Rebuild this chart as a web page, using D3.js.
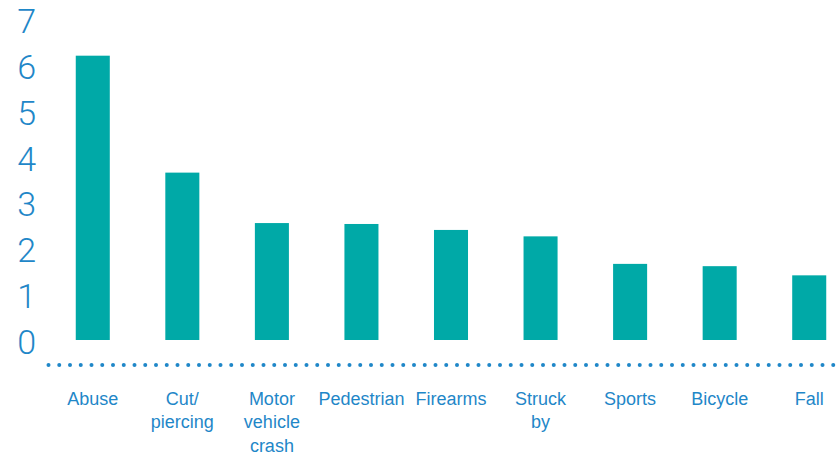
<!DOCTYPE html>
<html lang="en">
<head>
  <meta charset="UTF-8">
  <title>Injury mechanisms</title>
  <style>
    body { margin: 0; background: #fff; }
    svg { display: block; }
    text { font-family: "Liberation Sans", Arial, sans-serif; fill: #1f87c8; }
    .ytick { font-family: Roboto, "Liberation Sans", sans-serif; font-size: 34px; font-weight: 300; }
    .xlab { font-size: 18px; }
  </style>
</head>
<body>
  <svg width="840" height="459"></svg>
  <script src="https://d3js.org/d3.v7.min.js"></script>
  <script>
    const categories = ["Abuse", "Cut/\npiercing", "Motor\nvehicle\ncrash", "Pedestrian", "Firearms", "Struck\nby", "Sports", "Bicycle", "Fall"];
    const values = [6.2, 3.65, 2.55, 2.53, 2.4, 2.26, 1.66, 1.61, 1.41];
    const yTicks = [0, 1, 2, 3, 4, 5, 6, 7];

    const svg = d3.select("svg");

    const x = d3.scaleBand()
      .domain(categories)
      .range([48, 854])
      .paddingInner(0.62)
      .paddingOuter(0.31);

    const y = d3.scaleLinear()
      .domain([0, 7])
      .range([340, 19]);

    // y tick labels
    svg.append("g")
      .selectAll("text")
      .data(yTicks)
      .join("text")
      .attr("class", "ytick")
      .attr("x", 36)
      .attr("y", d => y(d) + 2)
      .attr("text-anchor", "end")
      .attr("dominant-baseline", "central")
      .text(d => d);

    // bars
    svg.append("g")
      .selectAll("rect")
      .data(categories)
      .join("rect")
      .attr("x", d => x(d))
      .attr("width", x.bandwidth())
      .attr("y", (d, i) => y(values[i]))
      .attr("height", (d, i) => y(0) - y(values[i]))
      .attr("fill", "#00a9a7");

    // dotted baseline
    const dots = d3.range(48.5, 838, 10.75);
    svg.append("g")
      .selectAll("circle")
      .data(dots)
      .join("circle")
      .attr("cx", d => d)
      .attr("cy", 365)
      .attr("r", 2)
      .attr("fill", "#1f87c8");

    // category labels
    const lab = svg.append("g")
      .selectAll("text")
      .data(categories)
      .join("text")
      .attr("class", "xlab")
      .attr("text-anchor", "middle")
      .attr("x", d => x(d) + x.bandwidth() / 2)
      .attr("y", 404.5);

    lab.selectAll("tspan")
      .data(d => d.split("\n").map(s => ({ s, x: x(d) + x.bandwidth() / 2 })))
      .join("tspan")
      .attr("x", d => d.x)
      .attr("dy", (d, i) => i === 0 ? 0 : 23.5)
      .text(d => d.s);
  </script>
</body>
</html>
